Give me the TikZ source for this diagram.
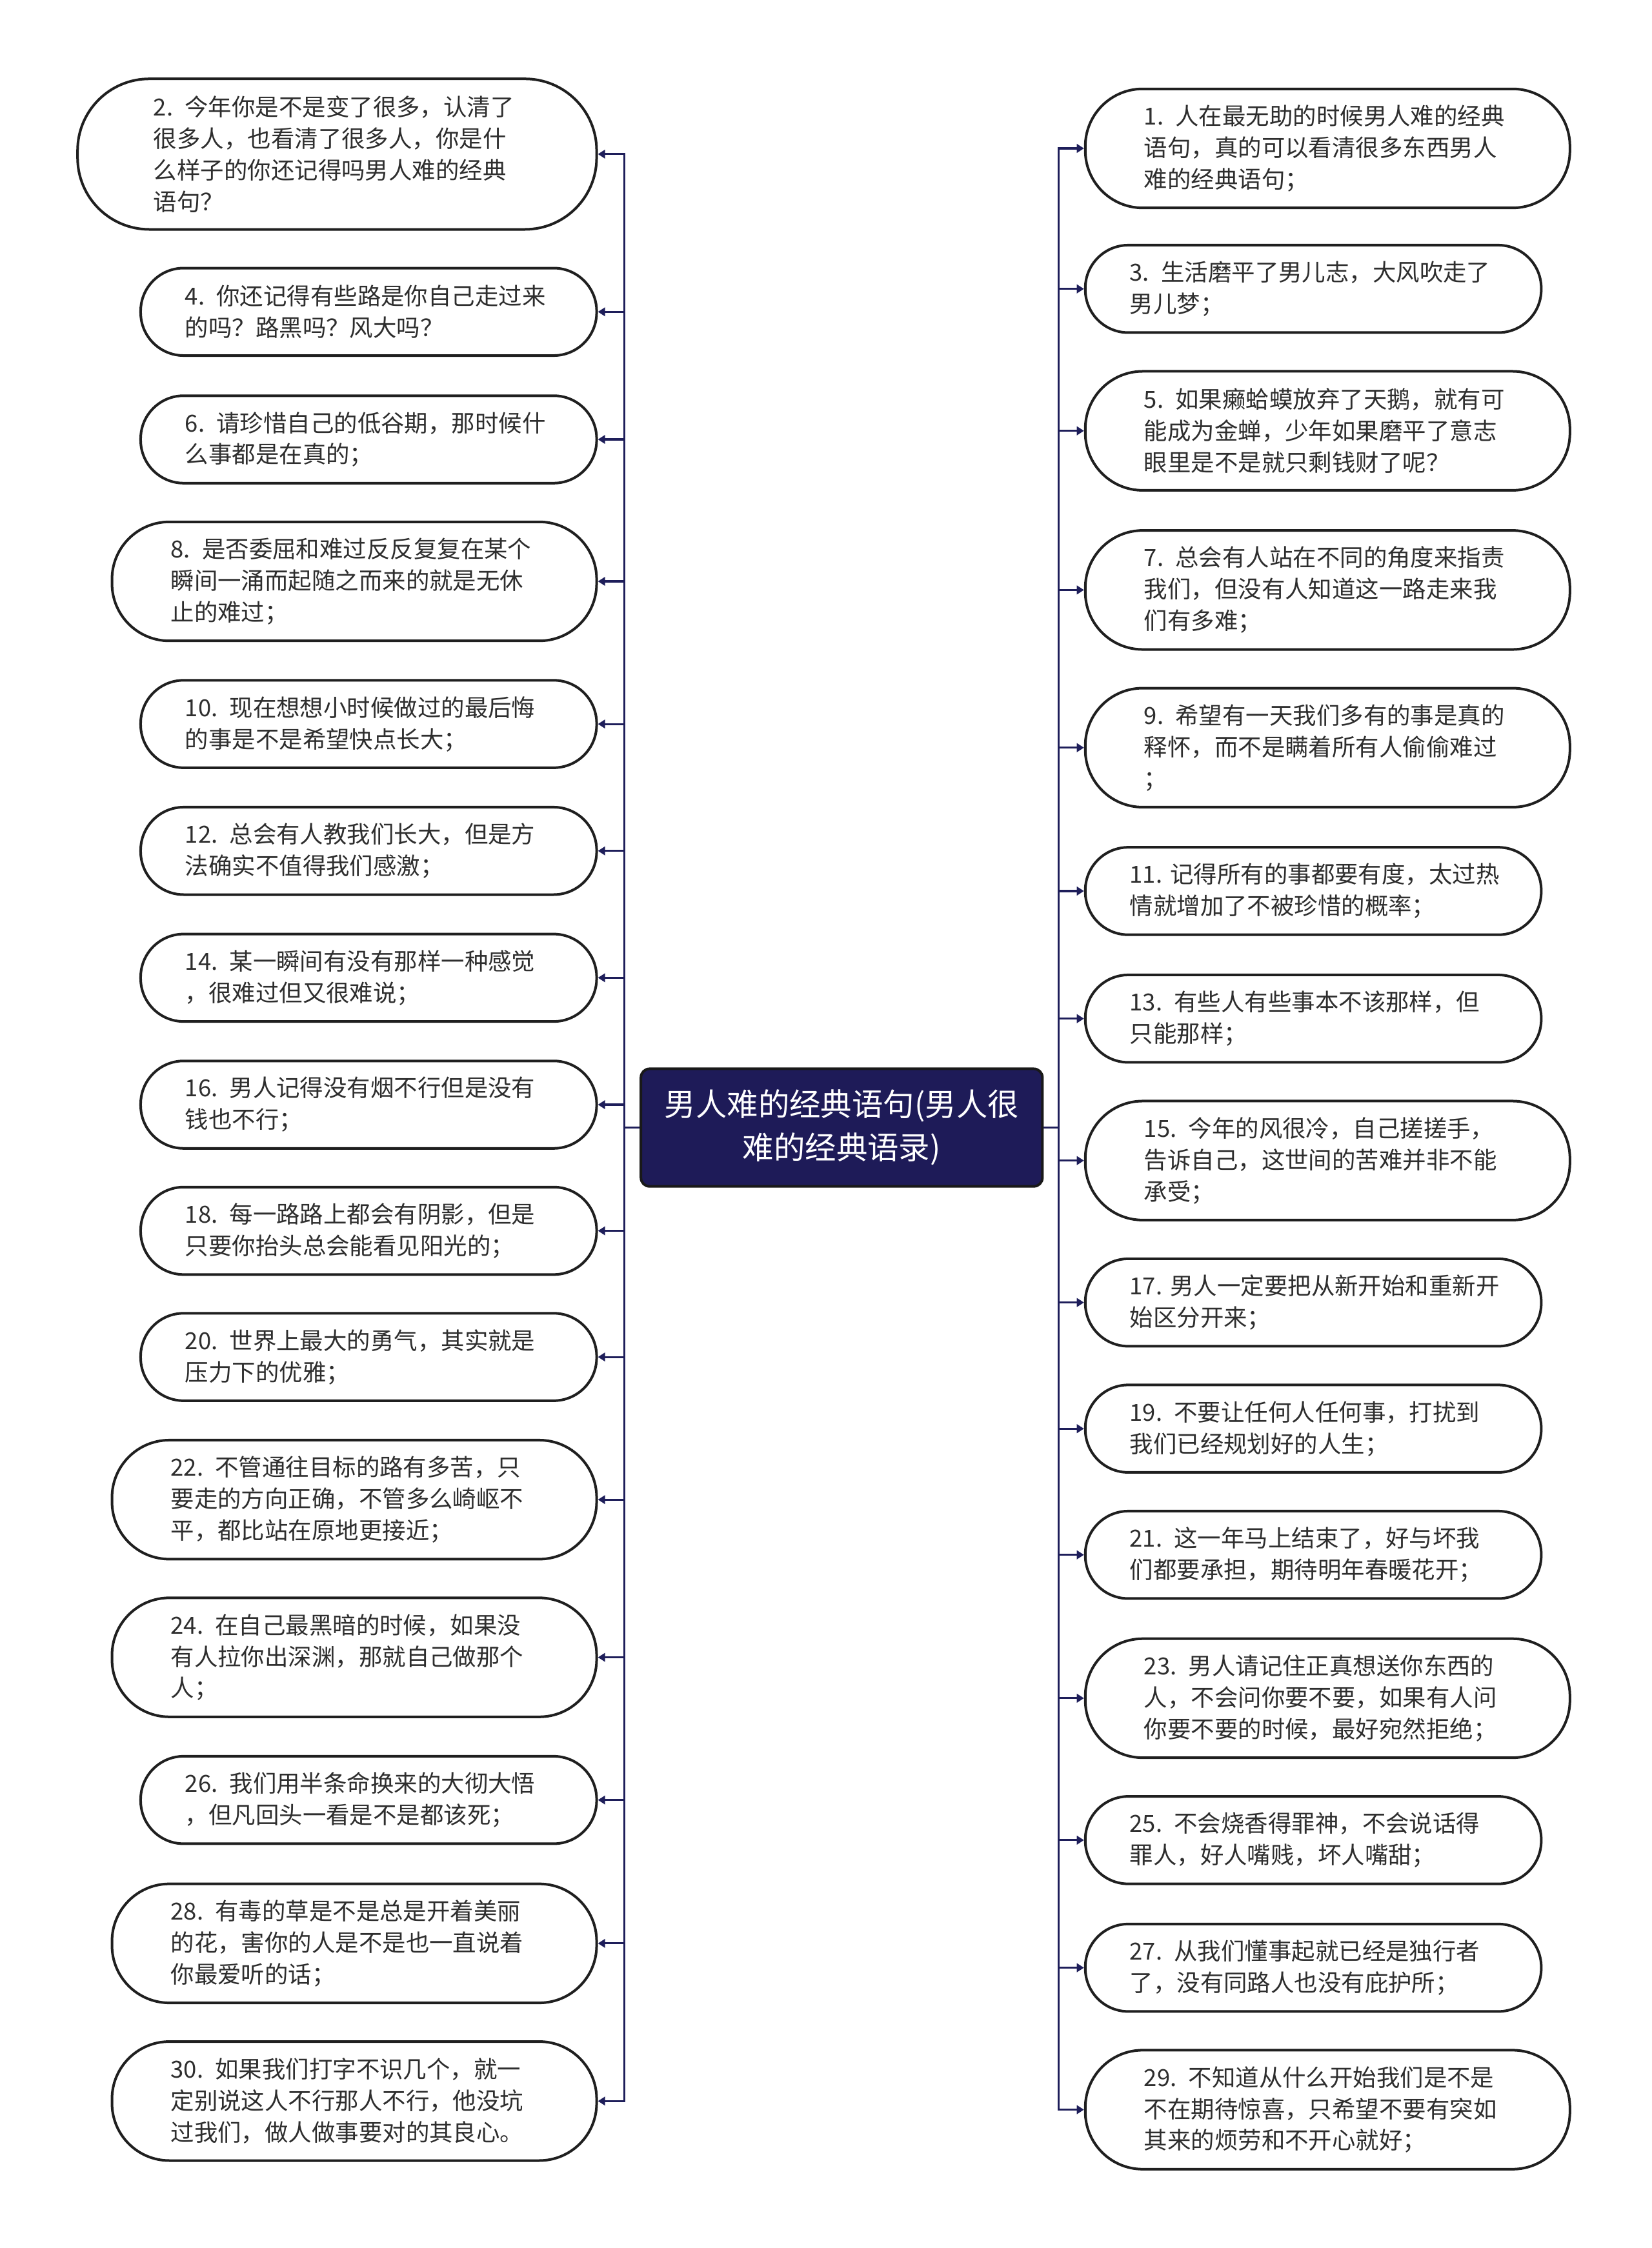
\documentclass[tikz,border=0pt]{standalone}
\usepackage{fontspec}
\setmainfont{Noto Sans CJK SC}
\usepackage{tikz}
\usetikzlibrary{arrows.meta,positioning}
\usepackage{xcolor}
\hfuzz=30pt

\begin{document}
\begin{tikzpicture}[
    x=1pt, y=-1pt,
    leaf/.style={draw=black!88, line width=1.8pt, fill=white, text=black!82,
      align=left, text width=256pt, inner ysep=2pt,
      font=\fontsize{16.4}{22}\selectfont},
    two/.style={leaf, minimum height=61pt, rounded corners=30pt},
    three/.style={leaf, minimum height=83pt, rounded corners=40pt},
    four/.style={leaf, minimum height=105pt, rounded corners=50pt},
    padw/.style={inner xsep=53pt},
    pads/.style={inner xsep=31pt},
    padm/.style={inner xsep=41pt},
    rootbox/.style={draw=black!90, line width=1.8pt, fill=rootc, text=white,
      rounded corners=6pt, align=center, text width=262pt, inner xsep=9pt,
      minimum height=82pt, font=\fontsize{21.8}{30}\selectfont},
    link/.style={draw=linkc, line width=1.4pt, -{Triangle[length=5pt,width=6pt]}}
  ]
    \definecolor{rootc}{RGB}{30,27,88}
    \definecolor{linkc}{RGB}{30,30,90}

    \fill[white] (0,0) rectangle (1152,1568);
    \useasboundingbox (0,0) rectangle (1152,1568);

    \node[rootbox] (root) at (587,786.5) {男人难的经典语句(男人很\\难的经典语录)};

    % left column
    \node[four, padw, anchor=east] (l2) at (417,107.5) {2. 今年你是不是变了很多，认清了\\很多人，也看清了很多人，你是什\\么样子的你还记得吗男人难的经典\\语句？};
    \node[two, pads, anchor=east] (l4) at (417,217.5) {4. 你还记得有些路是你自己走过来\\的吗？路黑吗？风大吗？};
    \node[two, pads, anchor=east] (l6) at (417,306.5) {6. 请珍惜自己的低谷期，那时候什\\么事都是在真的；};
    \node[three, padm, anchor=east] (l8) at (417,405.5) {8. 是否委屈和难过反反复复在某个\\瞬间一涌而起随之而来的就是无休\\止的难过；};
    \node[two, pads, anchor=east] (l10) at (417,505) {10. 现在想想小时候做过的最后悔\\的事是不是希望快点长大；};
    \node[two, pads, anchor=east] (l12) at (417,593.5) {12. 总会有人教我们长大，但是方\\法确实不值得我们感激；};
    \node[two, pads, anchor=east] (l14) at (417,682) {14. 某一瞬间有没有那样一种感觉\\，很难过但又很难说；};
    \node[two, pads, anchor=east] (l16) at (417,770.5) {16. 男人记得没有烟不行但是没有\\钱也不行；};
    \node[two, pads, anchor=east] (l18) at (417,858.5) {18. 每一路路上都会有阴影，但是\\只要你抬头总会能看见阳光的；};
    \node[two, pads, anchor=east] (l20) at (417,946.5) {20. 世界上最大的勇气，其实就是\\压力下的优雅；};
    \node[three, padm, anchor=east] (l22) at (417,1046) {22. 不管通往目标的路有多苦，只\\要走的方向正确，不管多么崎岖不\\平，都比站在原地更接近；};
    \node[three, padm, anchor=east] (l24) at (417,1156) {24. 在自己最黑暗的时候，如果没\\有人拉你出深渊，那就自己做那个\\人；};
    \node[two, pads, anchor=east] (l26) at (417,1255.5) {26. 我们用半条命换来的大彻大悟\\，但凡回头一看是不是都该死；};
    \node[three, padm, anchor=east] (l28) at (417,1355.5) {28. 有毒的草是不是总是开着美丽\\的花，害你的人是不是也一直说着\\你最爱听的话；};
    \node[three, padm, anchor=east] (l30) at (417,1465.5) {30. 如果我们打字不识几个，就一\\定别说这人不行那人不行，他没坑\\过我们，做人做事要对的其良心。};

    % right column
    \node[three, padm, anchor=west] (r1) at (756,103.5) {1. 人在最无助的时候男人难的经典\\语句，真的可以看清很多东西男人\\难的经典语句；};
    \node[two, pads, anchor=west] (r3) at (756,201.5) {3. 生活磨平了男儿志，大风吹走了\\男儿梦；};
    \node[three, padm, anchor=west] (r5) at (756,300.5) {5. 如果癞蛤蟆放弃了天鹅，就有可\\能成为金蝉，少年如果磨平了意志\\眼里是不是就只剩钱财了呢？};
    \node[three, padm, anchor=west] (r7) at (756,411.5) {7. 总会有人站在不同的角度来指责\\我们，但没有人知道这一路走来我\\们有多难；};
    \node[three, padm, anchor=west] (r9) at (756,521.5) {9. 希望有一天我们多有的事是真的\\释怀，而不是瞒着所有人偷偷难过\\；};
    \node[two, pads, anchor=west] (r11) at (756,621.5) {11.~记得所有的事都要有度，太过热\\情就增加了不被珍惜的概率；};
    \node[two, pads, anchor=west] (r13) at (756,710.5) {13. 有些人有些事本不该那样，但\\只能那样；};
    \node[three, padm, anchor=west] (r15) at (756,809.5) {15. 今年的风很冷，自己搓搓手，\\告诉自己，这世间的苦难并非不能\\承受；};
    \node[two, pads, anchor=west] (r17) at (756,908.5) {17.~男人一定要把从新开始和重新开\\始区分开来；};
    \node[two, pads, anchor=west] (r19) at (756,996.5) {19. 不要让任何人任何事，打扰到\\我们已经规划好的人生；};
    \node[two, pads, anchor=west] (r21) at (756,1084.5) {21. 这一年马上结束了，好与坏我\\们都要承担，期待明年春暖花开；};
    \node[three, padm, anchor=west] (r23) at (756,1184.5) {23. 男人请记住正真想送你东西的\\人，不会问你要不要，如果有人问\\你要不要的时候，最好宛然拒绝；};
    \node[two, pads, anchor=west] (r25) at (756,1283.5) {25. 不会烧香得罪神，不会说话得\\罪人，好人嘴贱，坏人嘴甜；};
    \node[two, pads, anchor=west] (r27) at (756,1372.5) {27. 从我们懂事起就已经是独行者\\了，没有同路人也没有庇护所；};
    \node[three, padm, anchor=west] (r29) at (756,1471.5) {29. 不知道从什么开始我们是不是\\不在期待惊喜，只希望不要有突如\\其来的烦劳和不开心就好；};

    \foreach \n in {l2,l4,l6,l8,l10,l12,l14,l16,l18,l20,l22,l24,l26,l28,l30}
      \draw[link] (root.west) -- ++(-10.5,0) |- (\n.east);
    \foreach \n in {r1,r3,r5,r7,r9,r11,r13,r15,r17,r19,r21,r23,r25,r27,r29}
      \draw[link] (root.east) -- ++(10.5,0) |- (\n.west);
  \end{tikzpicture}
\end{document}
